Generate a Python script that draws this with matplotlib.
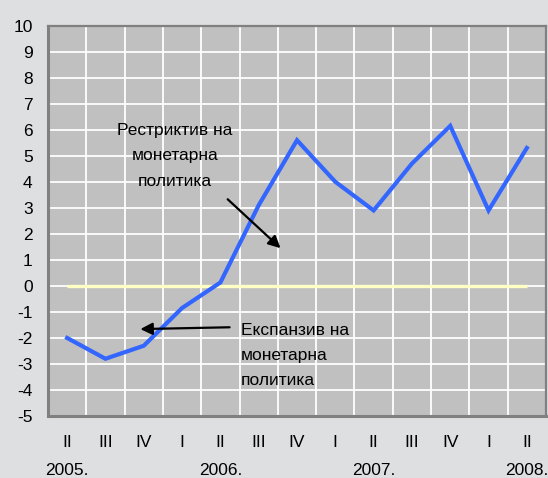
import matplotlib
matplotlib.use("Agg")
import matplotlib.pyplot as plt
import matplotlib.transforms as mtransforms

# ── Data ──────────────────────────────────────────────────────────────────────
quarters = ["II", "III", "IV", "I", "II", "III", "IV", "I", "II", "III", "IV", "I", "II"]
years = ["2005.", "2006.", "2007.", "2008."]
year_pos = [0, 4, 8, 12]
values = [-2.0, -2.8, -2.3, -0.85, 0.13, 3.1, 5.6, 4.0, 2.9, 4.7, 6.15, 2.9, 5.3]
zero_line = [0.0] * len(values)

restr_text = "Рестриктив на\nмонетарна\nполитика"
expan_text = "Експанзив на\nмонетарна\nполитика"

# ── Style ─────────────────────────────────────────────────────────────────────
BG = "#dedfe0"
PLOT_BG = "#c0c0c0"
BORDER = "#808080"
BLUE = "#3366ff"
YELLOW = "#ffffc4"
FONT = "Liberation Sans"
FS = 12.5

plt.rcParams["font.family"] = FONT

fig = plt.figure(figsize=(5.48, 4.78), dpi=100, facecolor=BG)
ax = fig.add_axes([48 / 548, 62 / 478, 498 / 548, 390.3 / 478])
ax.set_facecolor(PLOT_BG)

x = list(range(len(values)))
ax.plot(x, zero_line, color=YELLOW, lw=2.4, zorder=3, solid_capstyle="butt")
ax.plot(x, values, color=BLUE, lw=3.0, zorder=4, solid_joinstyle="miter")

ax.set_xlim(-0.5, len(values) - 0.5)
ax.set_ylim(-5, 10)

ax.set_yticks(range(-5, 11))
ax.set_yticklabels([str(v) for v in range(-5, 11)])
ax.set_xticks(x)
ax.set_xticklabels(quarters)
ax.set_xticks([i - 0.5 for i in range(1, len(values))], minor=True)
ax.tick_params(axis="y", length=0, pad=11, labelsize=FS)
ax.tick_params(axis="x", which="both", length=0, pad=14, labelsize=FS)

ax.grid(axis="y", which="major", color="white", lw=1.3, zorder=1)
ax.grid(axis="x", which="minor", color="white", lw=1.3, zorder=1)
ax.set_axisbelow(True)

for s in ax.spines.values():
    s.set_color(BORDER)
    s.set_linewidth(1.6)
ax.spines["left"].set_linewidth(2.2)
ax.spines["bottom"].set_linewidth(2.2)

trans = mtransforms.blended_transform_factory(ax.transData, ax.transAxes)
for yr, p in zip(years, year_pos):
    ax.text(p, -0.14, yr, transform=trans, ha="center", va="center", fontsize=FS)

# annotations
ax.text(2.82, 5.0, restr_text, ha="center", va="center", fontsize=FS,
        linespacing=1.85, zorder=5)
ax.annotate("", xy=(5.57, 1.45), xytext=(4.19, 3.33),
            arrowprops=dict(arrowstyle="-|>", color="black", lw=1.6,
                            mutation_scale=18, shrinkA=0, shrinkB=0), zorder=5)

ax.text(4.53, -2.67, expan_text, ha="left", va="center", fontsize=FS,
        linespacing=1.85, zorder=5)
ax.annotate("", xy=(1.91, -1.66), xytext=(4.24, -1.59),
            arrowprops=dict(arrowstyle="-|>", color="black", lw=1.6,
                            mutation_scale=18, shrinkA=0, shrinkB=0), zorder=5)

fig.savefig("out.png", dpi=100, facecolor=BG)
